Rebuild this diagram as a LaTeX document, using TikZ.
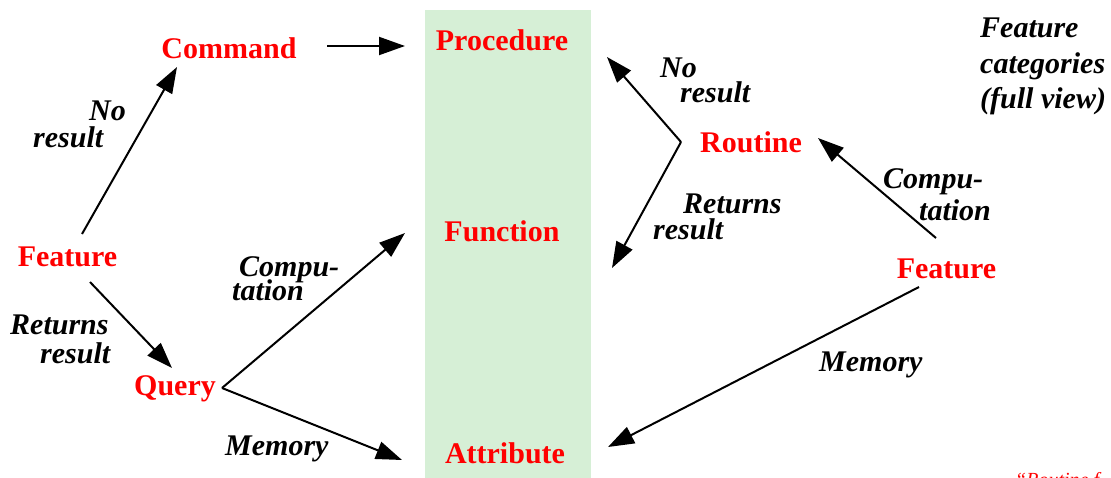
\documentclass[tikz,border=0pt]{standalone}
\usepackage{fontspec}
\setmainfont{Liberation Serif}
\usetikzlibrary{arrows.meta,calc}
\definecolor{panelgreen}{RGB}{214,239,214}
\definecolor{catred}{RGB}{255,0,0}
\begin{document}
\begin{tikzpicture}[x=1pt,y=-1pt,
  cat/.style={text=catred, inner sep=0pt, anchor=base,
    font=\fontsize{30}{30}\selectfont\bfseries},
  lbl/.style={inner sep=0pt, anchor=base west, align=left,
    font=\fontsize{30}{30}\selectfont\bfseries\itshape},
  arr/.style={-{Triangle[length=26pt,width=18pt]}, line width=2pt},
  note/.style={text=catred, inner sep=0pt, anchor=base west,
    font=\fontsize{20}{20}\selectfont\itshape}]
\lineskiplimit=-100pt
\useasboundingbox (0,0) rectangle (1111,477);
\fill[panelgreen] (425,10) rectangle (591,480);

% category nodes
\node[cat] (cmd)   at (229,58)    {Command};
\node[cat] (proc)  at (502,50)    {Procedure};
\node[cat] (func)  at (502,241)   {Function};
\node[cat] (attr)  at (505,463)   {Attribute};
\node[cat] (featL) at (67.5,266)  {Feature};
\node[cat] (query) at (175,395)   {Query};
\node[cat] (rout)  at (751,152)   {Routine};
\node[cat] (featR) at (946.5,278) {Feature};

% fork points
\coordinate (qf) at ($(query.base)+(47,-7)$);
\coordinate (rf) at ($(rout.base)+(-70,-10)$);

% connectors
\draw[arr] ($(featL.base)+(14.5,-32)$) -- ($(cmd.base)+(-52,9)$);
\draw[arr] ($(cmd.base)+(98,-12)$) -- ($(proc.base)+(-97,-4)$);
\draw[arr] ($(featL.base)+(22.5,16)$) -- ($(query.base)+(-3,-27)$);
\draw[arr] (qf) -- ($(func.base)+(-97,-8)$);
\draw[arr] (qf) -- ($(attr.base)+(-103,-3)$);
\draw[arr] (rf) -- ($(proc.base)+(105,7)$);
\draw[arr] (rf) -- ($(func.base)+(110,27)$);
\draw[arr] ($(featR.base)+(-10.5,-40)$) -- ($(rout.base)+(67,-14)$);
\draw[arr] ($(featR.base)+(-27.5,9)$) -- ($(attr.base)+(103,-16)$);

% connector labels (anchored at the baseline of their last line)
\node[lbl] (lno)   at (33,147)  {\kern56pt No\\[-3pt]result};
\node[lbl] (lret)  at (10,363)  {Returns\\[-1pt]\kern30pt result};
\node[lbl] (lcomp) at (232,300) {\kern7pt Compu-\\[-6pt]tation};
\node[lbl] (lmem)  at (225,455) {Memory};
\node[lbl] (rno)   at (660,102) {No\\[-5pt]\kern20pt result};
\node[lbl] (rret)  at (653,239) {\kern30pt Returns\\[-4pt]result};
\node[lbl] (rcomp) at (883,220) {Compu-\\[2pt]\kern36pt tation};
\node[lbl] (rmem)  at (819,371) {Memory};

% title
\node[lbl] (title) at (980,108) {Feature\\[6pt]categories\\[5pt](full view)};

% cut-off note at bottom right
\node[note] (cap) at (1015,486) {“Routine f};
\end{tikzpicture}
\end{document}
